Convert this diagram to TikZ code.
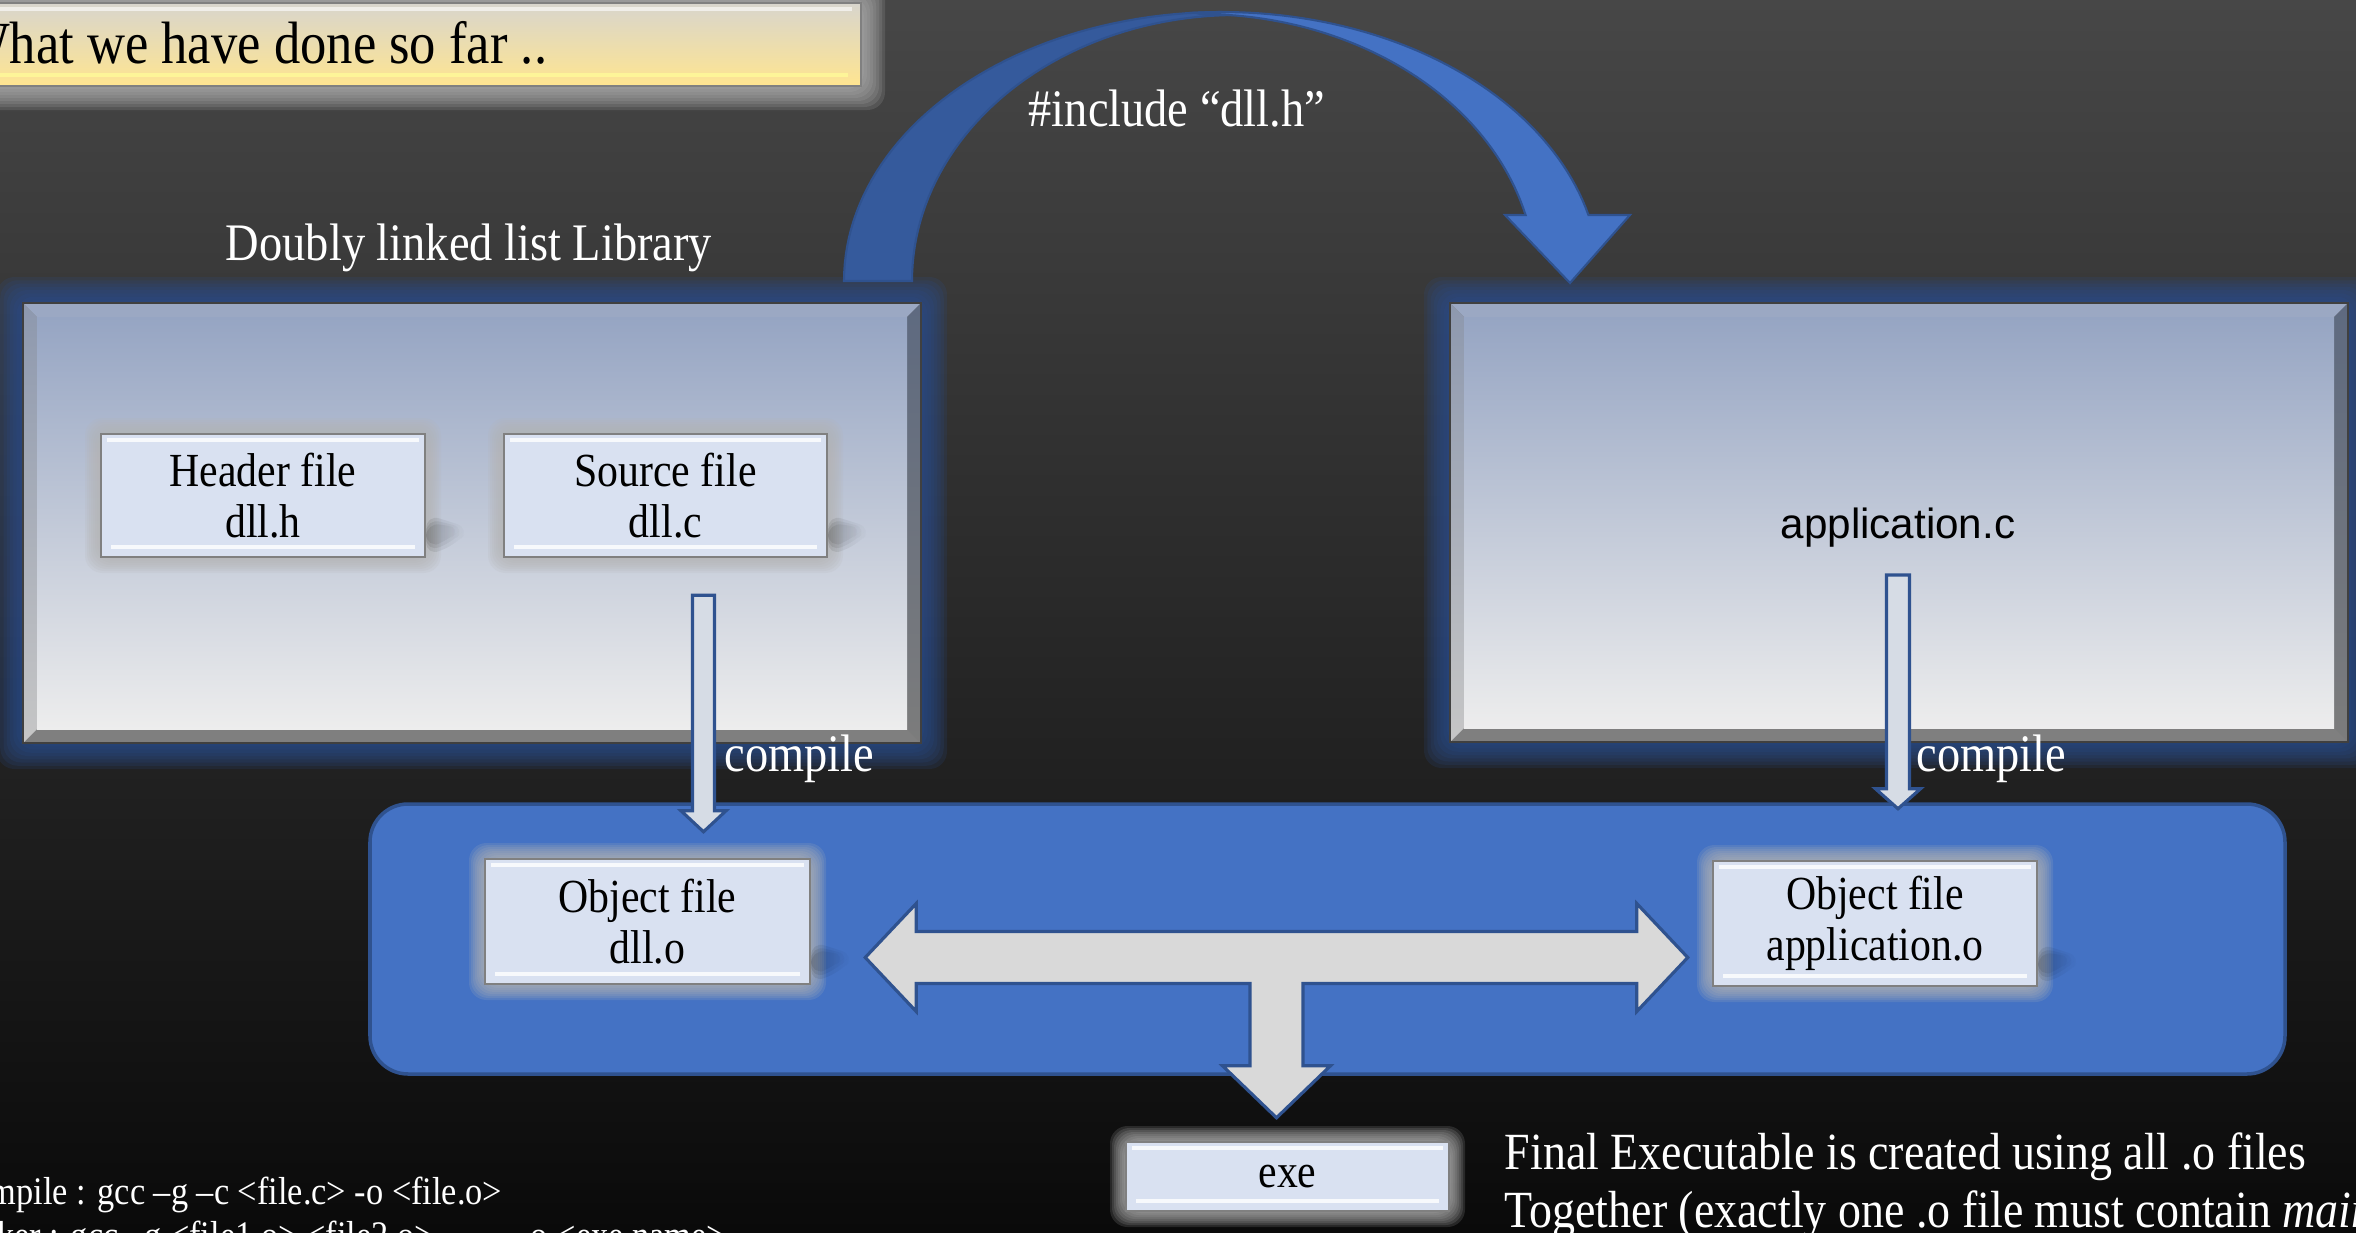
\documentclass[tikz,border=0pt]{standalone}
\usepackage{fontspec}
\setmainfont{Liberation Serif}[FakeStretch=0.88]
\newfontfamily\appfont{Liberation Sans}
\usetikzlibrary{calc,fadings}

\definecolor{bgtop}{HTML}{474747}
\definecolor{bgbot}{HTML}{0A0A0A}
\definecolor{glowblue}{HTML}{2A4D8F}
\definecolor{glowgrey}{HTML}{B4B4B4}
\definecolor{officeblue}{HTML}{4472C4}
\definecolor{officeline}{HTML}{2F528F}
\definecolor{archdark}{HTML}{355A9C}
\definecolor{boxfill}{HTML}{D9E1F1}
\definecolor{boxline}{HTML}{808080}
\definecolor{arrowgrey}{HTML}{D9D9D9}
\definecolor{arrowpale}{HTML}{D6DCE5}
\definecolor{paneltop}{HTML}{96A5C3}
\definecolor{panelmid}{HTML}{C5C9D5}
\definecolor{panelbot}{HTML}{EDEDED}
\definecolor{bevelLtop}{HTML}{8D98AE}
\definecolor{bevelLbot}{HTML}{C6C6C6}
\definecolor{bevelRtop}{HTML}{5E6A80}
\definecolor{bevelRbot}{HTML}{7C7C7C}
\definecolor{bevelB}{HTML}{7F7F7F}
\definecolor{bevelT}{HTML}{9BA8C3}
\definecolor{titletop}{HTML}{D8D5CD}
\definecolor{titlebot}{HTML}{FFE590}

% soft halo: colour, x1, y1, x2, y2, spread
\newcommand{\softglow}[6]{%
  \foreach \k in {1,...,8}{%
    \fill[#1, opacity=0.17, rounded corners=5pt]
      ({#2-#6*\k/8},{#3-#6*\k/8}) rectangle ({#4+#6*\k/8},{#5+#6*\k/8});}}

% bevelled panel with blue halo: x1, y1, x2, y2
\newcommand{\bevelpanel}[4]{%
  \softglow{glowblue}{#1}{#2}{#3}{#4}{26}
  \fill[bevelB] (#1,#2) rectangle (#3,#4);
  \fill[bevelT] (#1,#2) -- (#3,#2) -- ({#3-14},{#2+14}) -- ({#1+14},{#2+14}) -- cycle;
  \shade[top color=bevelLtop, bottom color=bevelLbot]
    (#1,#2) -- ({#1+14},{#2+14}) -- ({#1+14},{#4-14}) -- (#1,#4) -- cycle;
  \shade[top color=bevelRtop, bottom color=bevelRbot]
    (#3,#2) -- ({#3-14},{#2+14}) -- ({#3-14},{#4-14}) -- (#3,#4) -- cycle;
  \shade[top color=paneltop, middle color=panelmid, bottom color=panelbot]
    ({#1+14},{#2+14}) rectangle ({#3-14},{#4-14});
  \draw[black!75, line width=0.6pt] (#1,#2) rectangle (#3,#4);}

% light file box with grey halo: name, x1, y1, x2, y2, text
\newcommand{\filebox}[6]{%
  \softglow{glowgrey}{#2}{#3}{#4}{#5}{16}
  \node[filebox, minimum width={(#4-#2)*0.01cm}, minimum height={(#5-#3)*0.01cm}]
    (#1) at ({(#2+#4)/2},{(#3+#5)/2}) {#6};
  \draw[white, opacity=0.8, line width=0.9pt] ({#2+6},{#3+6}) -- ({#4-6},{#3+6});
  \draw[white, opacity=0.8, line width=0.9pt] ({#2+10},{#5-10}) -- ({#4-10},{#5-10});}

% block arrow pointing down: style, top, tip, shaft half width, head half width, head length
\newcommand{\blockdown}[6]{%
  \draw[#1] ($(#2)+(-#4,0)$) -- ($(#2)+(#4,0)$) -- ($(#3)+(#4,-#6)$) -- ($(#3)+(#5,-#6)$)
    -- (#3) -- ($(#3)+(-#5,-#6)$) -- ($(#3)+(-#4,-#6)$) -- cycle;}

% soft perspective shadow to the right of a box
\newcommand{\sideshadow}[1]{%
  \foreach \s in {0,4,8}{%
    \fill[black, opacity=0.09, path fading=east, rounded corners=4pt]
      ($(#1.south east)+(0,{-44+\s})$) -- ($(#1.south east)+({44-\s},-30)$)
      -- ($(#1.south east)+({30-\s},{-14-\s/2})$) -- ($(#1.south east)+(0,{-2-\s})$) -- cycle;}}

\begin{document}
\begin{tikzpicture}[x=0.01cm, y=-0.01cm,
  lbl/.style={text=white, font=\fontsize{15}{18}\selectfont, inner sep=0pt},
  filebox/.style={draw=boxline, line width=0.7pt, fill=boxfill, align=center,
    inner sep=0pt, text=black, font=\fontsize{13.5}{14.5}\selectfont},
  tarrow/.style={fill=arrowgrey, draw=officeline, line width=0.9pt, line join=miter},
  paleblock/.style={fill=arrowpale, draw=officeline, line width=0.9pt, line join=miter},
  band/.style={draw=officeline, line width=0.6pt}]

\useasboundingbox (0,0) rectangle (2356,1233);
\shade[top color=bgtop, bottom color=bgbot] (0,0) rectangle (2356,1233);

% title bar
\softglow{glowgrey}{-30}{3}{861}{86}{24}
\shadedraw[top color=titletop, bottom color=titlebot, draw=boxline, line width=0.8pt]
  (-30,3) rectangle (861,86);
\draw[white, opacity=0.6, line width=0.9pt] (-30,9) -- (852,9);
\draw[yellow!40!white, opacity=0.8, line width=0.9pt] (-30,75) -- (848,75);
\node[anchor=base east, inner sep=0pt, font=\fontsize{17}{20}\selectfont] (title) at (548,63)
  {What we have done so far ..};

% library and application panels
\bevelpanel{23}{303}{921}{743}
\bevelpanel{1450}{303}{2348}{742}

\node[lbl, anchor=base] (libname) at (469,260) {Doubly linked list Library};

% curved include arrow from the library to the application
\filldraw[band, fill=archdark]
  plot[domain=180:270, samples=50] ({1222+378*cos(\x)},{281+269*sin(\x)})
  -- plot[domain=270:180, samples=50] ({1237+325*cos(\x)},{281+266*sin(\x)}) -- cycle;
\filldraw[band, fill=officeblue]
  plot[domain=266:345.8, samples=50] ({1222+378*cos(\x)},{281+269*sin(\x)})
  -- (1630,215) -- (1570,283) -- (1505,215)
  -- plot[domain=345.7:270, samples=50] ({1200+336*cos(\x)},{281+267*sin(\x)}) -- cycle;
\node[lbl, anchor=base west] (inc) at (1028,126) {\#include “dll.h”};

% files of the library
\filebox{hdr}{101}{434}{425}{557}{Header file\\dll.h}
\filebox{src}{504}{434}{827}{557}{Source file\\dll.c}
\sideshadow{hdr}
\sideshadow{src}

\node[text=black, inner sep=0pt, font=\appfont\fontsize{12}{14}\selectfont] (appc) at (1898,528) {application.c};

% object file area
\filldraw[fill=officeblue, draw=officeline, line width=1pt, rounded corners=0.38cm]
  (370,804) rectangle (2285,1074);
\filebox{dllo}{485}{859}{810}{984}{Object file\\dll.o}
\filebox{appo}{1713}{861}{2037}{986}{Object file\\application.o}
\sideshadow{dllo}
\sideshadow{appo}

% compile steps
\coordinate (c1top) at ($(src.south)+(38,37)$);
\coordinate (c1tip) at ($(c1top |- dllo.north)+(0,-26)$);
\blockdown{paleblock}{c1top}{c1tip}{11}{22.5}{21}
\coordinate (c2top) at ($(appc)+(0,47)$);
\coordinate (c2tip) at ($(c2top |- appo.north)+(0,-51)$);
\blockdown{paleblock}{c2top}{c2tip}{11.5}{22.5}{20}
\node[lbl, anchor=base west] (cmpL) at (724,771) {compile};
\node[lbl, anchor=base west] (cmpR) at (1916,771) {compile};

% executable
\filebox{exe}{1126}{1142}{1449}{1211}{exe}

% linking arrow between the object files, down to the executable
\coordinate (tL) at ($(dllo.east)+(54,36)$);
\coordinate (tR) at ($(appo.west)+(-24,34)$);
\coordinate (tD) at ($(exe.north)+(-11,-23)$);
\draw[tarrow] (tL) -- ($(tL)+(51,-54)$) -- ($(tL)+(51,-26)$) -- ($(tR)+(-51,-26)$)
  -- ($(tR)+(-51,-54)$) -- (tR) -- ($(tR)+(-51,54)$) -- ($(tR)+(-51,26)$)
  -- ($(tD |- tR)+(26.5,26)$) -- ($(tD)+(26.5,-52)$) -- ($(tD)+(54,-52)$) -- (tD)
  -- ($(tD)+(-54,-52)$) -- ($(tD)+(-26.5,-52)$) -- ($(tD |- tL)+(-26.5,26)$)
  -- ($(tL)+(51,26)$) -- ($(tL)+(51,54)$) -- cycle;

% notes
\node[lbl, anchor=base west, font=\fontsize{14.85}{16.5}\selectfont] (final1) at (1504,1169)
  {Final Executable is created using all .o files};
\node[lbl, anchor=base west, font=\fontsize{14.85}{16.5}\selectfont] (final2) at (1504,1227)
  {Together (exactly one .o file must contain \textit{main}())};

\node[lbl, anchor=base east, font=\fontsize{11.1}{12}\selectfont] (cmdA) at (503,1204)
  {Compile : gcc –g –c <file.c> -o <file.o>};
\node[lbl, anchor=base west, font=\fontsize{11.1}{12}\selectfont] (cmdB) at ($(cmdA.base west)+(0,44)$)
  {Linker : gcc –g <file1.o> <file2.o> …… -o <exe name>};
\end{tikzpicture}
\end{document}
